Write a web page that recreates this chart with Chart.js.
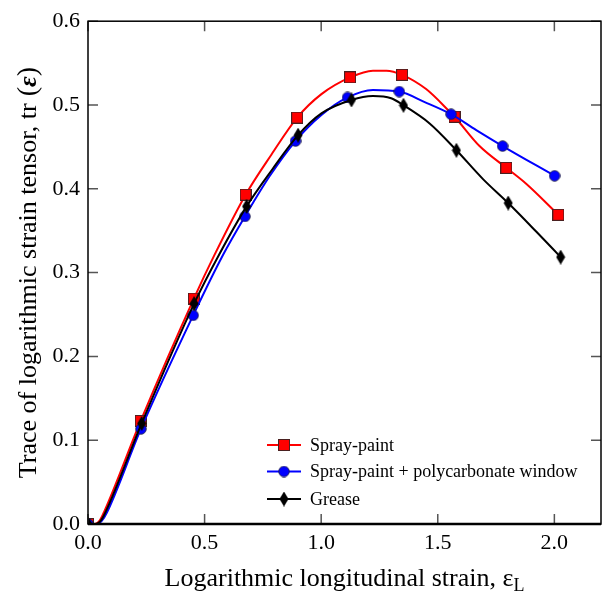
<!DOCTYPE html>
<html lang="en">
<head>
  <meta charset="UTF-8" />
  <title>Trace of logarithmic strain tensor</title>
  <script src="https://cdn.jsdelivr.net/npm/chart.js"></script>
  <style>
    body { margin: 0; padding: 0; background: white; }
    .wrap { width: 609px; height: 596px; position: relative; }
  </style>
</head>
<body>
<div class="wrap"><canvas id="strainChart"></canvas></div>

<script>
// tick values
const xTicks = [0, 0.5, 1.0, 1.5, 2.0];
const yTicks = [0, 0.1, 0.2, 0.3, 0.4, 0.5, 0.6];

// Spray-paint (red) - curve
const redCurveX = [0, 0.03, 0.05, 0.07, 0.226, 0.454, 0.544, 0.676, 0.787, 0.897, 1.001, 1.124, 1.222, 1.28, 1.347, 1.45, 1.551, 1.572, 1.679, 1.794, 1.879, 2.017];
const redCurveY = [0, 0, 0.004, 0.015, 0.123, 0.269, 0.322, 0.393, 0.441, 0.485, 0.513, 0.533, 0.541, 0.541, 0.536, 0.519, 0.492, 0.486, 0.451, 0.425, 0.406, 0.369];
const redMarkX = [0, 0.226, 0.454, 0.676, 0.897, 1.124, 1.347, 1.572, 1.794, 2.017];
const redMarkY = [0, 0.123, 0.269, 0.393, 0.485, 0.533, 0.536, 0.486, 0.425, 0.369];

// Spray-paint + polycarbonate window (blue)
const blueCurveX = [0, 0.04, 0.06, 0.08, 0.227, 0.451, 0.580, 0.673, 0.78, 0.890, 1.001, 1.113, 1.222, 1.335, 1.444, 1.557, 1.665, 1.778, 2.001];
const blueCurveY = [0, 0, 0.004, 0.013, 0.1135, 0.249, 0.3216, 0.367, 0.4155, 0.457, 0.488, 0.509, 0.518, 0.516, 0.5035, 0.489, 0.470, 0.451, 0.4155];
const blueMarkX = [0, 0.227, 0.451, 0.673, 0.890, 1.113, 1.335, 1.557, 1.778, 2.001];
const blueMarkY = [0, 0.1135, 0.249, 0.367, 0.457, 0.509, 0.516, 0.489, 0.451, 0.4155];

// Grease (black)
const blackCurveX = [0, 0.035, 0.055, 0.075, 0.230, 0.455, 0.5626, 0.680, 0.79, 0.901, 1.001, 1.130, 1.222, 1.30, 1.353, 1.465, 1.580, 1.694, 1.802, 1.922, 2.027];
const blackCurveY = [0, 0, 0.004, 0.014, 0.120, 0.263, 0.3216, 0.379, 0.423, 0.464, 0.490, 0.506, 0.5106, 0.508, 0.4997, 0.478, 0.446, 0.4116, 0.383, 0.349, 0.3185];
const blackMarkX = [0, 0.230, 0.455, 0.680, 0.901, 1.130, 1.353, 1.580, 1.802, 2.027];
const blackMarkY = [0, 0.120, 0.263, 0.379, 0.464, 0.506, 0.4997, 0.446, 0.383, 0.3185];

const seriesNames = ["Spray-paint", "Spray-paint + polycarbonate window", "Grease"];

const serif = "'Liberation Serif', 'Times New Roman', serif";

function pts(xs, ys) {
  return xs.map((x, i) => ({ x: x, y: ys[i] }));
}

// marker images
function makeSquare() {
  const c = document.createElement("canvas");
  c.width = 12; c.height = 12;
  const g = c.getContext("2d");
  g.fillStyle = "#ff0000";
  g.fillRect(0.5, 0.5, 11, 11);
  g.strokeStyle = "#4a2020";
  g.lineWidth = 1;
  g.strokeRect(0.5, 0.5, 11, 11);
  return c;
}
function makeCircle() {
  const c = document.createElement("canvas");
  c.width = 12; c.height = 12;
  const g = c.getContext("2d");
  g.beginPath();
  g.arc(6, 6, 5.3, 0, Math.PI * 2);
  g.fillStyle = "#0000ff";
  g.fill();
  g.strokeStyle = "#202040";
  g.lineWidth = 0.8;
  g.stroke();
  return c;
}
function makeDiamond() {
  const c = document.createElement("canvas");
  c.width = 10; c.height = 15;
  const g = c.getContext("2d");
  g.beginPath();
  g.moveTo(5, 0);
  g.lineTo(9.5, 7.5);
  g.lineTo(5, 15);
  g.lineTo(0.5, 7.5);
  g.closePath();
  g.fillStyle = "#000";
  g.fill();
  return c;
}
const squareImg = makeSquare();
const circleImg = makeCircle();
const diamondImg = makeDiamond();

const seriesColors = ["#ff0000", "#0000ff", "#000000"];
const seriesMarkers = [squareImg, circleImg, diamondImg];

function curveSet(data, color, order) {
  return {
    data: data,
    borderColor: color,
    borderWidth: 2,
    pointRadius: 0,
    cubicInterpolationMode: "monotone",
    fill: false,
    order: order
  };
}
function markSet(data, img, order) {
  return {
    data: data,
    showLine: false,
    pointStyle: img,
    pointRadius: 6,
    clip: 0,
    order: order
  };
}

const overlay = {
  id: "overlay",
  afterDraw(chart) {
    const { ctx, chartArea: a, scales } = chart;
    const x = scales.x, y = scales.y;
    ctx.save();

    // inward ticks on all four sides
    ctx.strokeStyle = "#555";
    ctx.lineWidth = 1.5;
    ctx.beginPath();
    xTicks.forEach(v => {
      const px = x.getPixelForValue(v);
      ctx.moveTo(px, a.bottom); ctx.lineTo(px, a.bottom - 10);
      ctx.moveTo(px, a.top); ctx.lineTo(px, a.top + 10);
    });
    yTicks.forEach(v => {
      const py = y.getPixelForValue(v);
      ctx.moveTo(a.left, py); ctx.lineTo(a.left + 10, py);
      ctx.moveTo(a.right, py); ctx.lineTo(a.right - 10, py);
    });
    ctx.stroke();

    // frame
    ctx.strokeStyle = "#000";
    ctx.lineWidth = 1.5;
    ctx.strokeRect(a.left, a.top, a.right - a.left, a.bottom - a.top);
    ctx.lineWidth = 2.5;
    ctx.beginPath();
    ctx.moveTo(a.left, a.bottom); ctx.lineTo(a.right, a.bottom);
    ctx.stroke();

    ctx.fillStyle = "#000";
    ctx.textBaseline = "alphabetic";

    // x axis title
    const xParts = [
      { t: "Logarithmic longitudinal strain, ", f: "26px " + serif, dy: 0 },
      { t: "ε", f: "26px " + serif, dy: 0 },
      { t: "L", f: "18px " + serif, dy: 5 }
    ];
    let w = 0;
    xParts.forEach(p => { ctx.font = p.f; p.w = ctx.measureText(p.t).width; w += p.w; });
    let cx = (a.left + a.right) / 2 - w / 2;
    xParts.forEach(p => { ctx.font = p.f; ctx.fillText(p.t, cx, 586 + p.dy); cx += p.w; });

    // y axis title
    const yParts = [
      { t: "Trace of logarithmic strain tensor, tr", f: "26px " + serif },
      { t: " (", f: "28px " + serif },
      { t: "ε", f: "italic bold 26px " + serif },
      { t: ")", f: "28px " + serif }
    ];
    w = 0;
    yParts.forEach(p => { ctx.font = p.f; p.w = ctx.measureText(p.t).width; w += p.w; });
    ctx.save();
    ctx.translate(36, (a.top + a.bottom) / 2);
    ctx.rotate(-Math.PI / 2);
    cx = -w / 2;
    yParts.forEach(p => { ctx.font = p.f; ctx.fillText(p.t, cx, 0); cx += p.w; });
    ctx.restore();

    // legend
    const lx = a.left + 179;
    const rows = [a.bottom - 79, a.bottom - 52.5, a.bottom - 25];
    ctx.font = "18px " + serif;
    ctx.textBaseline = "middle";
    seriesNames.forEach((name, i) => {
      const ry = rows[i];
      ctx.strokeStyle = seriesColors[i];
      ctx.lineWidth = 2;
      ctx.beginPath();
      ctx.moveTo(lx, ry); ctx.lineTo(lx + 34, ry);
      ctx.stroke();
      const img = seriesMarkers[i];
      ctx.drawImage(img, lx + 17 - img.width / 2, ry - img.height / 2);
      ctx.fillStyle = "#000";
      ctx.fillText(name, lx + 43, ry + 1);
    });

    ctx.restore();
  }
};

new Chart(document.getElementById("strainChart"), {
  type: "line",
  data: {
    datasets: [
      curveSet(pts(redCurveX, redCurveY), seriesColors[0], 6),
      markSet(pts(redMarkX, redMarkY), squareImg, 5),
      curveSet(pts(blueCurveX, blueCurveY), seriesColors[1], 4),
      markSet(pts(blueMarkX, blueMarkY), circleImg, 3),
      curveSet(pts(blackCurveX, blackCurveY), seriesColors[2], 2),
      markSet(pts(blackMarkX, blackMarkY), diamondImg, 1)
    ]
  },
  options: {
    responsive: true,
    maintainAspectRatio: false,
    animation: false,
    layout: { padding: { top: 13, right: 8, left: 0, bottom: 0 } },
    plugins: {
      legend: { display: false },
      tooltip: { enabled: false }
    },
    scales: {
      x: {
        type: "linear",
        min: 0,
        max: 2.2,
        grid: { display: false, drawTicks: false },
        border: { display: false },
        afterBuildTicks: s => { s.ticks = xTicks.map(v => ({ value: v })); },
        afterFit: s => { s.height = 72; },
        ticks: {
          padding: 6,
          color: "#000",
          font: { family: serif, size: 22 },
          callback: v => Number(v).toFixed(1)
        }
      },
      y: {
        type: "linear",
        min: 0,
        max: 0.6,
        grid: { display: false, drawTicks: false },
        border: { display: false },
        afterBuildTicks: s => { s.ticks = yTicks.map(v => ({ value: v })); },
        afterFit: s => { s.width = 88; },
        ticks: {
          padding: 8,
          color: "#000",
          font: { family: serif, size: 22 },
          callback: v => Number(v).toFixed(1)
        }
      }
    }
  },
  plugins: [overlay]
});
</script>
</body>
</html>
